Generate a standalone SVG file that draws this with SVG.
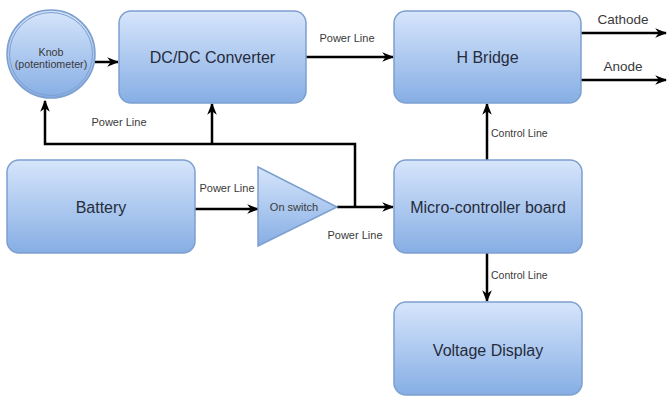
<svg xmlns="http://www.w3.org/2000/svg" width="668" height="397" viewBox="0 0 668 397">
<defs>
<linearGradient id="g" x1="0" y1="0" x2="0" y2="1">
<stop offset="0" stop-color="#d6e5fb"/>
<stop offset="1" stop-color="#86aee4"/>
</linearGradient>
<marker id="a" viewBox="0 0 10 10" refX="9" refY="5" markerWidth="12" markerHeight="12" orient="auto" markerUnits="userSpaceOnUse">
<path d="M0,1 L10,5 L0,9 L3,5 Z" fill="#000"/>
</marker>
</defs>
<style>
.box{fill:url(#g);stroke:#7d9fcf;stroke-width:1.5}
.t{font-family:"Liberation Sans",Arial,sans-serif;font-size:16px;fill:#262c3c;text-anchor:middle}
.s{font-family:"Liberation Sans",Arial,sans-serif;font-size:11px;fill:#3a3a3a;text-anchor:middle}
.k{font-size:10.7px}
.o{font-size:13.5px}
.l{font-family:"Liberation Sans",Arial,sans-serif;font-size:10.5px;fill:#3a3a3a}
.c{fill:none;stroke:#000;stroke-width:2.5}
</style>
<rect width="668" height="397" fill="#fff"/>
<g id="connectors">
<path class="c" d="M95,62 H118" marker-end="url(#a)"/>
<path class="c" d="M306,57 H393" marker-end="url(#a)"/>
<path class="c" d="M581,33 H666" marker-end="url(#a)"/>
<path class="c" d="M581,80 H666" marker-end="url(#a)"/>
<path class="c" d="M195,209 H258" marker-end="url(#a)"/>
<path class="c" d="M337,207 H393" marker-end="url(#a)"/>
<path class="c" d="M355,207 V144 H45 V101" marker-end="url(#a)"/>
<path class="c" d="M212,144 V104" marker-end="url(#a)"/>
<path class="c" d="M487,160 V104" stroke-width="2" marker-end="url(#a)"/>
<path class="c" d="M487,253 V301" stroke-width="2" marker-end="url(#a)"/>
<text class="s" x="347" y="42">Power Line</text>
<text class="s" x="119" y="126">Power Line</text>
<text class="s" x="227" y="192">Power Line</text>
<text class="s" x="355" y="239">Power Line</text>
<text class="l" x="491" y="137">Control Line</text>
<text class="l" x="491" y="279">Control Line</text>
<text class="s o" x="623" y="24">Cathode</text>
<text class="s o" x="623" y="71">Anode</text>
</g>
<g id="knob">
<circle cx="51" cy="54" r="44" class="box" stroke="#a8c1e6" stroke-width="3"/>
<circle cx="51" cy="54" r="41.5" fill="none" stroke="#7d9fcf" stroke-width="1"/>
<text class="s k" x="51" y="56">Knob</text>
<text class="s k" x="51" y="68">(potentiometer)</text>
</g>
<g id="dcdc">
<rect class="box" x="119" y="11" width="187" height="92" rx="12"/>
<text class="t" x="212.5" y="63">DC/DC Converter</text>
</g>
<g id="hbridge">
<rect class="box" x="394" y="11" width="187" height="92" rx="12"/>
<text class="t" x="487.5" y="63">H Bridge</text>
</g>
<g id="battery">
<rect class="box" x="7" y="160" width="188" height="93" rx="12"/>
<text class="t" x="101" y="213">Battery</text>
</g>
<g id="switch">
<path class="box" d="M258,167 L337,207 L258,246 Z"/>
<text class="s" x="294" y="211">On switch</text>
</g>
<g id="micro">
<rect class="box" x="394" y="160" width="188" height="93" rx="12"/>
<text class="t" x="488" y="213">Micro-controller board</text>
</g>
<g id="display">
<rect class="box" x="394" y="302" width="188" height="93" rx="12"/>
<text class="t" x="488" y="356">Voltage Display</text>
</g>
</svg>
